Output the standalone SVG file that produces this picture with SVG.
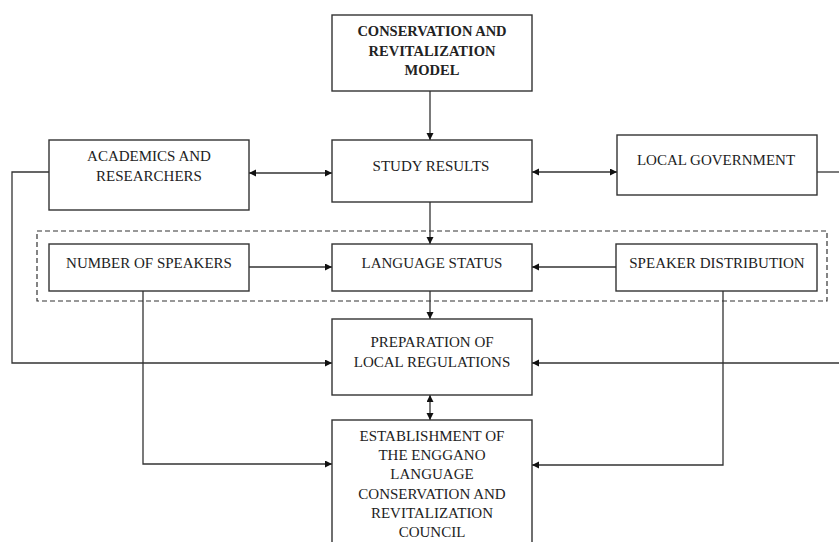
<svg xmlns="http://www.w3.org/2000/svg" width="839" height="542" viewBox="0 0 839 542">
<defs>
<marker id="ah" markerWidth="8" markerHeight="8" refX="7" refY="3.5" orient="auto-start-reverse" markerUnits="userSpaceOnUse">
<path d="M0,0 L7,3.5 L0,7 Z" fill="#111"/>
</marker>
<style>
.box{fill:#fff;stroke:#333;stroke-width:1.4}
.ln{fill:none;stroke:#333;stroke-width:1.3}
.t{font-family:"Liberation Serif","Times New Roman",serif;font-size:15px;fill:#222;text-anchor:middle}
.b{font-weight:bold;font-size:14.5px}
</style>
</defs>
<rect width="839" height="542" fill="#fff"/>
<rect x="37" y="231" width="790" height="70" fill="none" stroke="#333" stroke-width="1.2" stroke-dasharray="5,3"/>
<g id="connectors">
<line class="ln" x1="430" y1="91" x2="430" y2="140" marker-end="url(#ah)"/>
<line class="ln" x1="430" y1="202" x2="430" y2="244" marker-end="url(#ah)"/>
<line class="ln" x1="430" y1="291" x2="430" y2="319" marker-end="url(#ah)"/>
<line class="ln" x1="430" y1="395" x2="430" y2="420" marker-start="url(#ah)" marker-end="url(#ah)"/>
<line class="ln" x1="249" y1="173" x2="332" y2="173" marker-start="url(#ah)" marker-end="url(#ah)"/>
<line class="ln" x1="532" y1="172" x2="617" y2="172" marker-start="url(#ah)" marker-end="url(#ah)"/>
<line class="ln" x1="249" y1="267" x2="332" y2="267" marker-end="url(#ah)"/>
<line class="ln" x1="616" y1="267" x2="532" y2="267" marker-end="url(#ah)"/>
<polyline class="ln" points="49,172 12,172 12,363 332,363" marker-end="url(#ah)"/>
<line class="ln" x1="817" y1="172" x2="839" y2="172"/>
<line class="ln" x1="839" y1="363" x2="532" y2="363" marker-end="url(#ah)"/>
<polyline class="ln" points="143,291 143,464 332,464" marker-end="url(#ah)"/>
<polyline class="ln" points="723,291 723,465 532,465" marker-end="url(#ah)"/>
</g>
<g id="model">
<rect class="box" x="332" y="15" width="200" height="76"/>
<text class="t b" x="432" y="36">CONSERVATION AND</text>
<text class="t b" x="432" y="56">REVITALIZATION</text>
<text class="t b" x="432" y="75">MODEL</text>
</g>
<g id="academics">
<rect class="box" x="49" y="140" width="200" height="70"/>
<text class="t" x="149" y="161">ACADEMICS AND</text>
<text class="t" x="149" y="181">RESEARCHERS</text>
</g>
<g id="study">
<rect class="box" x="332" y="140" width="200" height="62"/>
<text class="t" x="431" y="171">STUDY RESULTS</text>
</g>
<g id="government">
<rect class="box" x="617" y="135" width="200" height="60"/>
<text class="t" x="716" y="165">LOCAL GOVERNMENT</text>
</g>
<g id="speakers">
<rect class="box" x="49" y="244" width="200" height="47"/>
<text class="t" x="149" y="268">NUMBER OF SPEAKERS</text>
</g>
<g id="status">
<rect class="box" x="332" y="244" width="200" height="47"/>
<text class="t" x="432" y="268">LANGUAGE STATUS</text>
</g>
<g id="distribution">
<rect class="box" x="616" y="244" width="201" height="47"/>
<text class="t" x="717" y="268">SPEAKER DISTRIBUTION</text>
</g>
<g id="preparation">
<rect class="box" x="332" y="319" width="200" height="76"/>
<text class="t" x="432" y="347">PREPARATION OF</text>
<text class="t" x="432" y="367">LOCAL REGULATIONS</text>
</g>
<g id="council">
<rect class="box" x="332" y="420" width="200" height="140"/>
<text class="t" x="432" y="441">ESTABLISHMENT OF</text>
<text class="t" x="432" y="460">THE ENGGANO</text>
<text class="t" x="432" y="479">LANGUAGE</text>
<text class="t" x="432" y="499">CONSERVATION AND</text>
<text class="t" x="432" y="518">REVITALIZATION</text>
<text class="t" x="432" y="537">COUNCIL</text>
</g>
</svg>
